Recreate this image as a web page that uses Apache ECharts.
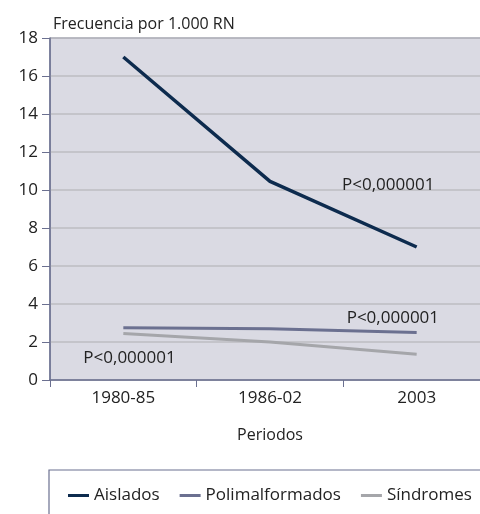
<!DOCTYPE html>
<html><head><meta charset="utf-8">
<script src="https://cdn.jsdelivr.net/npm/echarts@6/dist/echarts.min.js"></script>
<style>html,body{margin:0;padding:0;background:#fff}#c{width:480px;height:514px}</style>
</head><body><div id="c"></div>
<script>
const categories = ['1980-85', '1986-02', '2003'];
const aislados = [17.0, 10.45, 7.0];
const polimalformados = [2.75, 2.7, 2.5];
const sindromes = [2.45, 2.0, 1.35];
const yTicks = [0, 2, 4, 6, 8, 10, 12, 14, 16, 18];
const pLabel = 'P<0,000001';

const FONT = '"Open Sans", "Noto Sans", sans-serif';
const chart = echarts.init(document.getElementById('c'));
function mp(series, idx, off) {
  return {
    symbol: 'circle', symbolSize: 0,
    data: [{ coord: [idx, series[idx]] }],
    label: { show: true, formatter: pLabel, position: 'inside', align: 'left', verticalAlign: 'middle',
      offset: off, color: '#222', fontSize: 17, fontFamily: FONT }
  };
}
chart.setOption({
  animation: false,
  textStyle: { fontFamily: FONT },
  grid: { left: 50, top: 38, width: 440, bottom: 134, show: true, backgroundColor: '#dadae3',
    borderColor: '#6b7090', borderWidth: 1, outerBoundsMode: 'none', containLabel: false },
  title: { text: 'Frecuencia por 1.000 RN', left: 48, top: 11,
    textStyle: { fontSize: 16, fontWeight: 'normal', color: '#222', fontFamily: FONT } },
  xAxis: {
    type: 'category', data: categories, boundaryGap: true,
    name: 'Periodos', nameLocation: 'middle', nameGap: 47,
    nameTextStyle: { fontSize: 16, color: '#222', fontFamily: FONT },
    axisLine: { lineStyle: { color: '#6b7090', width: 1.5 } },
    axisTick: { show: true, length: 7, lineStyle: { color: '#6b7090' } },
    axisLabel: { fontSize: 17, color: '#222', margin: 10, fontFamily: FONT },
    splitLine: { show: false }
  },
  yAxis: {
    type: 'value', min: 0, max: 18, interval: 2,
    axisLine: { show: true, lineStyle: { color: '#6b7090', width: 1.5 } },
    axisTick: { show: true, length: 8, lineStyle: { color: '#6b7090' } },
    axisLabel: { fontSize: 17, color: '#222', margin: 12, fontFamily: FONT,
      formatter: v => yTicks.includes(v) ? String(v) : '' },
    splitLine: { lineStyle: { color: '#bcbcc2', width: 1.5 } }
  },
  legend: {
    top: 482, left: 63, itemGap: 20, icon: 'rect', itemWidth: 21, itemHeight: 3,
    textStyle: { fontSize: 17, color: '#222', fontFamily: FONT },
    data: ['Aislados', 'Polimalformados', 'Síndromes']
  },
  graphic: [{ type: 'rect', shape: { x: 49, y: 470, width: 460, height: 80 },
    style: { fill: 'none', stroke: '#6b7090', lineWidth: 1.2 }, z: -1 }],
  series: [
    { name: 'Síndromes', type: 'line', data: sindromes, symbol: 'none', z: 3,
      lineStyle: { color: '#a5a6aa', width: 3 }, itemStyle: { color: '#a5a6aa' },
      markPoint: mp(sindromes, 0, [-40, 25]) },
    { name: 'Polimalformados', type: 'line', data: polimalformados, symbol: 'none', z: 4,
      lineStyle: { color: '#6b7090', width: 3 }, itemStyle: { color: '#6b7090' },
      markPoint: mp(polimalformados, 2, [-70, -14]) },
    { name: 'Aislados', type: 'line', data: aislados, symbol: 'none', z: 5,
      lineStyle: { color: '#0d2b4e', width: 3.5 }, itemStyle: { color: '#0d2b4e' },
      markPoint: mp(aislados, 1, [72, 4]) }
  ]
});
</script></body></html>
